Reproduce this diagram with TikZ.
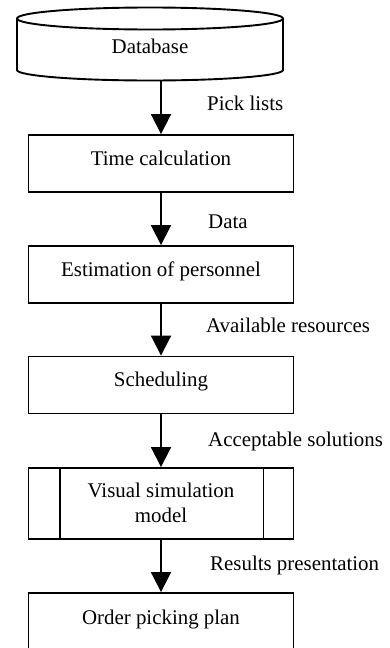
\documentclass[tikz,border=0pt]{standalone}
\usepackage{fontspec}
\setmainfont{Liberation Serif}
\usetikzlibrary{arrows.meta,calc}
\begin{document}
\begin{tikzpicture}[x=1pt,y=-1pt,
  lw/.style={line width=1.9pt},
  stage/.style={lw,draw,minimum width=265pt,minimum height=57pt,inner sep=0pt},
  flow/.style={lw,-{Triangle[width=20pt,length=20pt]}},
  caption/.style={anchor=base west,inner sep=0pt},
  title/.style={anchor=base,inner sep=0pt,align=center},
  font=\fontsize{20.9}{25}\selectfont]
\path[use as bounding box,clip] (0,0) rectangle (390,648);

% database cylinder
\draw[lw] (150,18.5) ellipse [x radius=133pt,y radius=11pt];
\draw[lw] (17,18.5) -- (17,70)
  arc[start angle=180,end angle=360,x radius=133pt,y radius=10.5pt] -- (283,18.5);
\node[title] (db) at (150,53.3) {Database};
\coordinate (dbout) at (161,80);

% process stages
\node[stage] (time) at (161,163.5) {};
\node[title] (timet) at ($(time.north)+(0,31.5)$) {Time calculation};

\node[stage] (estim) at (161,274.5) {};
\node[title] (estimt) at ($(estim.north)+(0,31)$) {Estimation of personnel};

\node[stage] (sched) at (161,385) {};
\node[title] (schedt) at ($(sched.north)+(0,31)$) {Scheduling};

\node[stage,minimum height=71pt] (vis) at (161,503.5) {};
\draw[lw] ($(vis.north west)+(32,0)$) -- ($(vis.south west)+(32,0)$);
\draw[lw] ($(vis.north east)+(-31,0)$) -- ($(vis.south east)+(-31,0)$);
% base of a two-line node is the baseline of its last line
\node[title] (vist) at ($(vis.north)+(0,55)$) {Visual simulation\\model};

\node[stage] (order) at (161,621.5) {};
\node[title] (ordert) at ($(order.north)+(0,32)$) {Order picking plan};

% flows
\draw[flow] (dbout) -- (time.north);
\draw[flow] (time.south) -- (estim.north);
\draw[flow] (estim.south) -- (sched.north);
\draw[flow] (sched.south) -- (vis.north);
\draw[flow] (vis.south) -- (order.north);

% flow captions
\node[caption] (c1) at (207,110) {Pick lists};
\node[caption] (c2) at (208,228) {Data};
\node[caption] (c3) at (206,332.7) {Available resources};
\node[caption] (c4) at (208,446.7) {Acceptable solutions};
\node[caption] (c5) at (210,570) {Results presentation};
\end{tikzpicture}
\end{document}
